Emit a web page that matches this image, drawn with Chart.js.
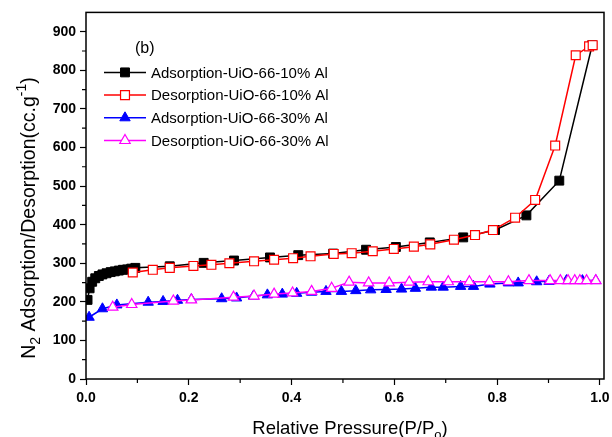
<!DOCTYPE html>
<html>
<head>
<meta charset="utf-8">
<script src="https://cdn.jsdelivr.net/npm/chart.js@4.4.1/dist/chart.umd.min.js"></script>
<style>
  body { margin: 0; background: #fff; }
  #wrap { width: 612px; height: 437px; }
</style>
</head>
<body>
<div id="wrap"><canvas id="myChart" width="612" height="437"></canvas></div>
<script>
// P/P0 and adsorbed volume (cc/g)
const pressureAds10 = [0.003, 0.007, 0.012, 0.018, 0.025, 0.032, 0.04, 0.048, 0.056, 0.064, 0.072, 0.08, 0.088, 0.096, 0.163, 0.229, 0.288, 0.358, 0.413, 0.481, 0.545, 0.603, 0.669, 0.734, 0.796, 0.857, 0.921, 0.985];
const volumeAds10 = [205, 235, 252, 261, 267, 271, 274, 277, 279, 281, 283, 284, 286, 288, 292, 301, 307, 315, 321, 325, 335, 342, 354, 367, 386, 424, 514, 865];

const pressureDes10 = [0.091, 0.130, 0.163, 0.209, 0.244, 0.279, 0.327, 0.366, 0.403, 0.437, 0.482, 0.517, 0.558, 0.599, 0.638, 0.670, 0.716, 0.757, 0.792, 0.835, 0.874, 0.913, 0.953, 0.979, 0.986];
const volumeDes10 = [276, 283, 288, 293, 296, 300, 305, 309, 313, 318, 324, 326, 331, 337, 343, 349, 361, 373, 386, 418, 464, 605, 839, 862, 865];

const pressureAds30 = [0.006, 0.032, 0.060, 0.121, 0.150, 0.178, 0.205, 0.264, 0.293, 0.326, 0.353, 0.382, 0.410, 0.439, 0.467, 0.497, 0.525, 0.554, 0.584, 0.614, 0.641, 0.672, 0.695, 0.729, 0.754, 0.786, 0.822, 0.841, 0.877, 0.901, 0.935, 0.966, 0.992];
const volumeAds30 = [160, 182, 192, 199, 201, 204, 206, 208, 210, 215, 218, 220, 222, 225, 227, 227, 229, 231, 232, 233, 235, 238, 238, 240, 240, 246, 249, 249, 252, 253, 255, 255, 255];

const pressureDes30 = [0.052, 0.089, 0.170, 0.205, 0.287, 0.327, 0.366, 0.402, 0.439, 0.478, 0.512, 0.550, 0.590, 0.629, 0.666, 0.705, 0.746, 0.785, 0.822, 0.862, 0.903, 0.923, 0.938, 0.951, 0.961, 0.974, 0.992];
const volumeDes30 = [186, 193, 202, 205, 212, 215, 220, 223, 227, 235, 251, 249, 249, 251, 252, 252, 252, 252, 252, 255, 255, 255, 255, 255, 255, 255, 255];

const seriesLabels = ['Adsorption-UiO-66-10% Al', 'Desorption-UiO-66-10% Al', 'Adsorption-UiO-66-30% Al', 'Desorption-UiO-66-30% Al'];
const xTickLabels = ['0.0', '0.2', '0.4', '0.6', '0.8', '1.0'];
const yTickLabels = ['0', '100', '200', '300', '400', '500', '600', '700', '800', '900'];

const FONT = '"Liberation Sans", Arial, sans-serif';

function toPoints(xs, ys) {
    return xs.map((x, i) => ({ x: x, y: ys[i] }));
}

// frame, minor ticks, axis titles and the inset legend
const extras = {
    id: 'extras',
    afterDraw(chart) {
        const ctx = chart.ctx;
        const a = chart.chartArea;
        const xs = chart.scales.x;
        const ys = chart.scales.y;
        ctx.save();
        ctx.strokeStyle = '#000';
        ctx.lineWidth = 1.5;
        ctx.strokeRect(a.left, a.top, a.right - a.left, a.bottom - a.top);

        // minor ticks
        ctx.lineWidth = 1.2;
        ctx.beginPath();
        for (let v = 50; v < 950; v += 100) {
            const py = ys.getPixelForValue(v);
            ctx.moveTo(a.left - 4, py);
            ctx.lineTo(a.left, py);
        }
        for (let v = 0.1; v < 1; v += 0.2) {
            const px = xs.getPixelForValue(v);
            ctx.moveTo(px, a.bottom);
            ctx.lineTo(px, a.bottom + 4);
        }
        ctx.stroke();

        // x title with subscript
        ctx.fillStyle = '#000';
        ctx.textBaseline = 'alphabetic';
        const big = '18.5px ' + FONT;
        const small = '13px ' + FONT;
        ctx.font = big;
        const t1 = 'Relative Pressure(P/P';
        const w1 = ctx.measureText(t1).width;
        ctx.font = small;
        const w2 = ctx.measureText('o').width;
        ctx.font = big;
        const w3 = ctx.measureText(')').width;
        let x0 = (a.left + a.right) / 2 + 5 - (w1 + w2 + w3) / 2;
        const by = 434;
        ctx.fillText(t1, x0, by);
        ctx.font = small;
        ctx.fillText('o', x0 + w1, by + 5);
        ctx.font = big;
        ctx.fillText(')', x0 + w1 + w2, by);

        // y title with sub and superscript
        const ybig = '19.5px ' + FONT;
        const ysmall = '14px ' + FONT;
        ctx.save();
        ctx.translate(35, 218);
        ctx.rotate(-Math.PI / 2);
        const parts = [
            { t: 'N', f: ybig, dy: 0 },
            { t: '2', f: ysmall, dy: 5 },
            { t: ' Adsorption/Desorption(cc.g', f: ybig, dy: 0 },
            { t: '-1', f: ysmall, dy: -9 },
            { t: ')', f: ybig, dy: 0 }
        ];
        let total = 0;
        parts.forEach(p => { ctx.font = p.f; p.w = ctx.measureText(p.t).width; total += p.w; });
        let cx = -total / 2;
        parts.forEach(p => {
            ctx.font = p.f;
            ctx.fillText(p.t, cx, p.dy);
            cx += p.w;
        });
        ctx.restore();

        // panel tag
        ctx.font = '16px ' + FONT;
        ctx.textBaseline = 'middle';
        ctx.fillText('(b)', a.left + 49, a.top + 36);

        // legend
        ctx.font = '15px ' + FONT;
        chart.data.datasets.forEach((ds, i) => {
            const ly = a.top + 60 + i * 22.7;
            const mx = a.left + 39;
            ctx.strokeStyle = ds.borderColor;
            ctx.lineWidth = 1.5;
            ctx.beginPath();
            ctx.moveTo(a.left + 18, ly);
            ctx.lineTo(a.left + 60, ly);
            ctx.stroke();
            ctx.fillStyle = ds.pointBackgroundColor;
            ctx.strokeStyle = ds.pointBorderColor;
            ctx.lineWidth = ds.pointBorderWidth;
            ctx.beginPath();
            if (ds.pointStyle === 'rect') {
                const s = ds.pointRadius * Math.SQRT1_2;
                ctx.rect(mx - s, ly - s, 2 * s, 2 * s);
            } else {
                const r = ds.pointRadius;
                const sx = r * Math.sin(2 * Math.PI / 3);
                const sy = r * Math.cos(2 * Math.PI / 3);
                ctx.moveTo(mx, ly - r);
                ctx.lineTo(mx + sx, ly - sy);
                ctx.lineTo(mx - sx, ly - sy);
                ctx.closePath();
            }
            ctx.fill();
            ctx.stroke();
            ctx.fillStyle = '#000';
            ctx.fillText(ds.label, a.left + 65, ly + 1);
        });
        ctx.restore();
    }
};

const ctx = document.getElementById('myChart').getContext('2d');
const myChart = new Chart(ctx, {
    type: 'line',
    data: {
        datasets: [
            {
                label: seriesLabels[0],
                data: toPoints(pressureAds10, volumeAds10),
                borderColor: '#000000',
                backgroundColor: '#000000',
                pointStyle: 'rect',
                pointRadius: 6.3,
                pointBackgroundColor: '#000000',
                pointBorderColor: '#000000',
                pointBorderWidth: 1,
                borderWidth: 1.5,
                order: 1
            },
            {
                label: seriesLabels[1],
                data: toPoints(pressureDes10, volumeDes10),
                borderColor: '#ff0000',
                backgroundColor: '#ffffff',
                pointStyle: 'rect',
                pointRadius: 6.3,
                pointBackgroundColor: '#ffffff',
                pointBorderColor: '#ff0000',
                pointBorderWidth: 1.2,
                borderWidth: 1.5,
                order: 0
            },
            {
                label: seriesLabels[2],
                data: toPoints(pressureAds30, volumeAds30),
                borderColor: '#0000ff',
                backgroundColor: '#0000ff',
                pointStyle: 'triangle',
                pointRadius: 6,
                pointBackgroundColor: '#0000ff',
                pointBorderColor: '#0000ff',
                pointBorderWidth: 1,
                borderWidth: 1.5,
                order: 3
            },
            {
                label: seriesLabels[3],
                data: toPoints(pressureDes30, volumeDes30),
                borderColor: '#ff00ff',
                backgroundColor: '#ffffff',
                pointStyle: 'triangle',
                pointRadius: 6,
                pointBackgroundColor: '#ffffff',
                pointBorderColor: '#ff00ff',
                pointBorderWidth: 1.2,
                borderWidth: 1.5,
                order: 2
            }
        ]
    },
    options: {
        responsive: false,
        animation: false,
        devicePixelRatio: 1,
        layout: { padding: { top: 11, right: 8, left: 0, bottom: 0 } },
        plugins: {
            legend: { display: false },
            tooltip: { enabled: false }
        },
        elements: { line: { tension: 0 } },
        scales: {
            x: {
                type: 'linear',
                min: 0,
                max: 1.008,
                afterBuildTicks: (scale) => {
                    scale.ticks = xTickLabels.map(t => ({ value: parseFloat(t) }));
                },
                afterFit: (scale) => {
                    scale.height = 58;
                    scale.paddingLeft = 0;
                    scale.paddingRight = 0;
                },
                grid: { drawOnChartArea: false, tickLength: 6, tickColor: '#000', tickWidth: 1.2 },
                border: { display: false },
                ticks: {
                    padding: 5,
                    color: '#000',
                    font: { family: FONT, size: 14, weight: 'bold' },
                    callback: (v) => xTickLabels.find(t => Math.abs(parseFloat(t) - v) < 1e-6) || ''
                }
            },
            y: {
                min: 0,
                max: 950,
                afterBuildTicks: (scale) => {
                    scale.ticks = yTickLabels.map(t => ({ value: parseFloat(t) }));
                },
                afterFit: (scale) => {
                    scale.width = 86;
                },
                grid: { drawOnChartArea: false, tickLength: 6, tickColor: '#000', tickWidth: 1.2 },
                border: { display: false },
                ticks: {
                    padding: 4,
                    color: '#000',
                    font: { family: FONT, size: 14, weight: 'bold' },
                    callback: (v) => String(v)
                }
            }
        }
    },
    plugins: [extras]
});
</script>
</body>
</html>
